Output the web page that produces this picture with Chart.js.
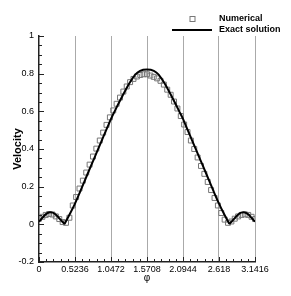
<!DOCTYPE html>
<html>
<head>
<meta charset="utf-8">
<script src="https://cdn.jsdelivr.net/npm/chart.js@4.4.1/dist/chart.umd.min.js"></script>
<style>
  html, body { margin: 0; padding: 0; background: #fff; }
  canvas { display: block; }
</style>
</head>
<body>
<canvas id="chartVelocidad" width="291" height="296"></canvas>
<script>
// ejes
const xTickVals = [0, 0.5236, 1.0472, 1.5708, 2.0944, 2.618, 3.1416];
const xTickLabels = ['0', '0.5236', '1.0472', '1.5708', '2.0944', '2.618', '3.1416'];
const yTickVals = [-0.2, 0, 0.2, 0.4, 0.6, 0.8, 1];
const yTickLabels = ['-0.2', '0', '0.2', '0.4', '0.6', '0.8', '1'];

// solucion numerica (cuadrados)
const phiNum = [0, 0.049, 0.098, 0.147, 0.196, 0.245, 0.295, 0.344, 0.393, 0.442, 0.491, 0.540, 0.589,
    0.638, 0.687, 0.736, 0.785, 0.834, 0.884, 0.933, 0.982, 1.031, 1.080, 1.129, 1.178, 1.227, 1.276,
    1.325, 1.374, 1.424, 1.473, 1.522, 1.571, 1.620, 1.669, 1.718, 1.767, 1.816, 1.865, 1.915, 1.964,
    2.013, 2.062, 2.111, 2.160, 2.209, 2.258, 2.307, 2.356, 2.405, 2.454, 2.503, 2.553, 2.602, 2.651,
    2.700, 2.749, 2.798, 2.847, 2.896, 2.945, 2.994, 3.043, 3.092, 3.142];
const velNum = [0.03, 0.04, 0.05, 0.055, 0.052, 0.042, 0.028, 0.012, 0.008, 0.035, 0.1, 0.145, 0.19,
    0.232, 0.275, 0.317, 0.36, 0.402, 0.445, 0.487, 0.528, 0.568, 0.605, 0.64, 0.673, 0.705, 0.732,
    0.755, 0.772, 0.785, 0.793, 0.797, 0.797, 0.79, 0.783, 0.775, 0.762, 0.742, 0.715, 0.688, 0.652,
    0.615, 0.575, 0.53, 0.49, 0.445, 0.4, 0.355, 0.31, 0.268, 0.225, 0.182, 0.14, 0.1, 0.06,
    0.025, 0.008, 0.015, 0.03, 0.042, 0.05, 0.053, 0.05, 0.04, 0.028];

// solucion exacta (linea)
const phiExact = [0, 0.05, 0.10, 0.16, 0.20, 0.25, 0.30, 0.34, 0.37, 0.40, 0.45, 0.5236, 0.60, 0.70,
    0.80, 0.90, 1.0, 1.0472, 1.10, 1.20, 1.30, 1.40, 1.47, 1.5708, 1.67, 1.74, 1.84, 1.94, 2.04,
    2.0944, 2.14, 2.24, 2.34, 2.44, 2.54, 2.618, 2.69, 2.74, 2.77, 2.80, 2.84, 2.89, 2.94, 2.98,
    3.04, 3.09, 3.1416];
const velExact = [0.014, 0.035, 0.054, 0.064, 0.062, 0.05, 0.03, 0.014, 0.004, 0.022, 0.056, 0.11,
    0.175, 0.262, 0.348, 0.434, 0.52, 0.56, 0.6, 0.672, 0.74, 0.795, 0.815, 0.822, 0.815, 0.795,
    0.74, 0.672, 0.6, 0.56, 0.52, 0.434, 0.348, 0.262, 0.175, 0.11, 0.056, 0.022, 0.004, 0.014,
    0.03, 0.05, 0.062, 0.064, 0.054, 0.035, 0.014];

const fuente = "'Liberation Sans', Arial, Helvetica, sans-serif";
Chart.defaults.font.family = fuente;
Chart.defaults.color = '#000';

// ticks hacia adentro (mayores y menores)
const ticksInternos = {
    id: 'ticksInternos',
    afterDatasetsDraw(chart) {
        const ctx = chart.ctx;
        const { x, y } = chart.scales;
        const area = chart.chartArea;
        ctx.save();
        ctx.strokeStyle = '#222';
        ctx.lineWidth = 1;
        ctx.beginPath();
        const pasoX = 0.5236 / 5;
        for (let i = 0; i <= 30; i++) {
            const px = Math.round(x.getPixelForValue(i * pasoX)) + 0.5;
            const largo = i % 5 === 0 ? 5 : 3;
            ctx.moveTo(px, area.bottom);
            ctx.lineTo(px, area.bottom - largo);
        }
        for (let i = 0; i <= 24; i++) {
            const py = Math.round(y.getPixelForValue(-0.2 + i * 0.05)) + 0.5;
            const largo = i % 4 === 0 ? 5 : 3;
            ctx.moveTo(area.left, py);
            ctx.lineTo(area.left + largo, py);
        }
        ctx.stroke();
        ctx.restore();
    }
};

// leyenda arriba a la derecha
const leyenda = {
    id: 'leyenda',
    afterDraw(chart) {
        const ctx = chart.ctx;
        const [num, exacta] = chart.data.datasets;
        ctx.save();
        ctx.font = 'bold 9px ' + fuente;
        ctx.fillStyle = '#000';
        ctx.textBaseline = 'middle';
        ctx.textAlign = 'left';

        ctx.strokeStyle = num.borderColor;
        ctx.lineWidth = 1;
        ctx.strokeRect(190, 16.5, 5, 5);
        ctx.fillText(num.label, 219, 19);

        ctx.strokeStyle = exacta.borderColor;
        ctx.lineWidth = 2;
        ctx.beginPath();
        ctx.moveTo(172, 30);
        ctx.lineTo(212, 30);
        ctx.stroke();
        ctx.fillText(exacta.label, 219, 30);
        ctx.restore();
    }
};

const ctx = document.getElementById('chartVelocidad').getContext('2d');
new Chart(ctx, {
    type: 'scatter',
    data: {
        datasets: [{
            label: 'Numerical',
            data: phiNum.map((p, i) => ({ x: p, y: velNum[i] })),
            showLine: false,
            pointStyle: 'rect',
            pointRadius: 3.5,
            borderColor: '#777',
            backgroundColor: 'rgba(255,255,255,0)',
            borderWidth: 1,
            order: 1
        }, {
            label: 'Exact solution',
            data: phiExact.map((p, i) => ({ x: p, y: velExact[i] })),
            showLine: true,
            borderColor: '#000',
            borderWidth: 2,
            pointRadius: 0,
            cubicInterpolationMode: 'monotone',
            order: 0
        }]
    },
    options: {
        responsive: false,
        animation: false,
        devicePixelRatio: 1,
        layout: { padding: { top: 36, right: 36, left: 0, bottom: 0 } },
        plugins: { legend: { display: false }, tooltip: { enabled: false } },
        scales: {
            x: {
                type: 'linear',
                min: 0,
                max: 3.1416,
                afterBuildTicks: s => { s.ticks = xTickVals.map(v => ({ value: v })); },
                afterFit: s => { s.height = 34; },
                ticks: {
                    callback: (v, i) => xTickLabels[i],
                    font: { size: 9 },
                    padding: 2,
                    maxRotation: 0,
                    autoSkip: false
                },
                grid: {
                    drawTicks: false,
                    color: c => (c.tick && c.tick.value === 0) ? 'rgba(0,0,0,0)' : '#aaa',
                    lineWidth: 1
                },
                border: { color: '#222', width: 1.5 },
                title: { display: true, text: 'φ', font: { size: 10 }, padding: { top: 0, bottom: 12 } }
            },
            y: {
                min: -0.2,
                max: 1,
                afterBuildTicks: s => { s.ticks = yTickVals.map(v => ({ value: v })); },
                afterFit: s => { s.width = 39; },
                ticks: {
                    callback: (v, i) => yTickLabels[i],
                    font: { size: 9 },
                    padding: 5
                },
                grid: { drawTicks: false, color: 'rgba(0,0,0,0)' },
                border: { color: '#222', width: 1.5 },
                title: { display: true, text: 'Velocity', font: { size: 11, weight: 'bold' }, padding: { top: 11, bottom: 0 } }
            }
        }
    },
    plugins: [ticksInternos, leyenda]
});
</script>
</body>
</html>
